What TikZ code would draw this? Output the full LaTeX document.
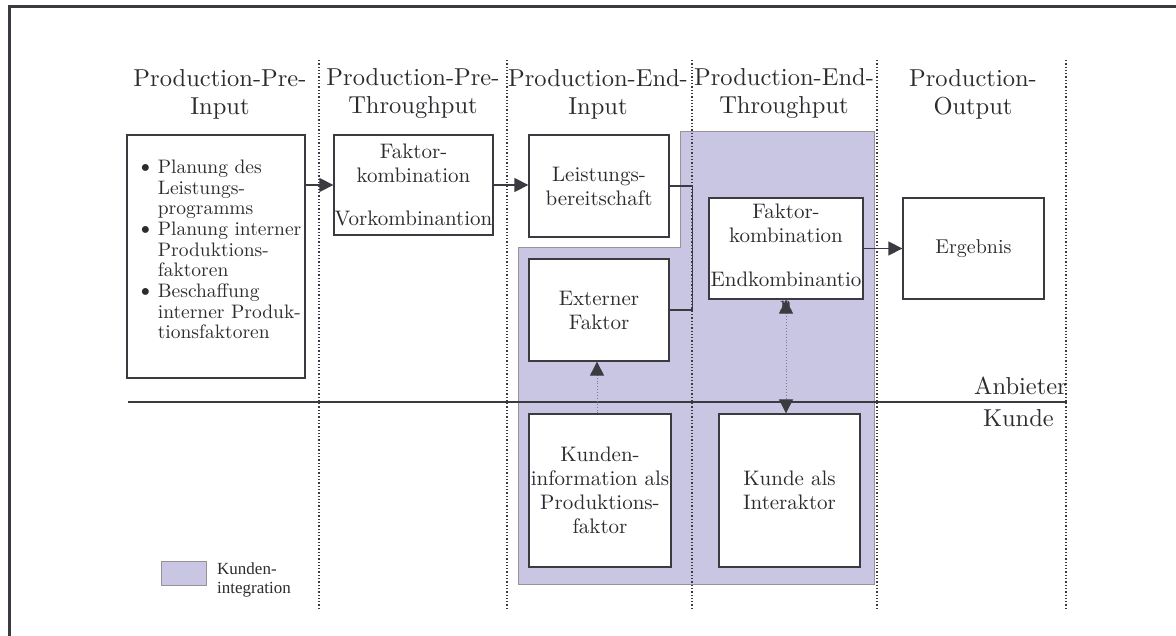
\documentclass[tikz,border=0pt]{standalone}
\usepackage{fontspec}
\setmainfont{lmroman10-regular.otf}[BoldFont=lmroman10-bold.otf, ItalicFont=lmroman10-italic.otf]
\newfontfamily\legendfont{Liberation Serif}
\usetikzlibrary{arrows.meta}
\definecolor{ink}{HTML}{3A3A40}
\definecolor{txt}{HTML}{2C2C30}
\definecolor{lav}{HTML}{C8C6E2}
\definecolor{lavedge}{HTML}{9C9296}
\definecolor{dotgray}{HTML}{7A7A80}
\begin{document}
\begin{tikzpicture}[x=1pt,y=-1pt,
  box/.style={draw=ink, line width=1.3pt, fill=white, inner sep=0pt, align=center,
    text=txt, font=\fontsize{21}{24}\selectfont},
  head/.style={align=center, text=txt, font=\fontsize{24.5}{28}\selectfont},
  colline/.style={draw=ink, line width=1.3pt, dotted},
  arr/.style={draw=ink, line width=1.3pt, -{Triangle[length=14pt,width=14pt]}},
  dotarr/.style={draw=dotgray, line width=0.9pt, dotted,
    {Triangle[length=14pt,width=14pt,fill=ink,color=ink]}-{Triangle[length=14pt,width=14pt,fill=ink,color=ink]}},
  dotarrone/.style={draw=dotgray, line width=0.9pt, dotted,
    -{Triangle[length=14pt,width=14pt,fill=ink,color=ink]}},
  lbl/.style={text=txt, font=\fontsize{24.5}{28}\selectfont, inner sep=0pt}
]
\useasboundingbox (0,0) rectangle (1176,636);

% frame (top and left)
\draw[ink, line width=3pt] (9,636) -- (9,7) -- (1176,7);

% customer integration area
\filldraw[fill=lav, draw=lavedge, line width=1pt]
  (680,132) -- (874,132) -- (874,584) -- (518,584) -- (518,248) -- (680,248) -- cycle;

% column separators
\foreach \xx in {319,507,692,877,1066} \draw[colline] (\xx,60) -- (\xx,609);

% headers
\node[head] (h1) at (220,94) {Production-Pre-\\Input};
\node[head] (h2) at (413,94) {Production-Pre-\\Throughput};
\node[head] (h3) at (598,94) {Production-End-\\Input};
\node[head] (h4) at (784,94) {Production-End-\\Throughput};
\node[head] (h5) at (973,94) {Production-\\Output};

% boxes
\node[box, minimum width=178pt, minimum height=243pt] (A) at (216,256.5) {};
\node[text=txt, font=\fontsize{19.5}{20.7}\selectfont, inner sep=0pt, anchor=west] (Atxt) at (136,252)
  {\begin{tabular}{@{}l@{\hspace{3pt}}l@{}}
   {\fontsize{24}{20.7}\selectfont\textbullet} & Planung des\\
   & Leistungs-\\
   & programms\\
   {\fontsize{24}{20.7}\selectfont\textbullet} & Planung interner\\
   & Produktions-\\
   & faktoren\\
   {\fontsize{24}{20.7}\selectfont\textbullet} & Beschaffung\\
   & interner Produk-\\
   & tionsfaktoren
   \end{tabular}};
\node[box, minimum width=159pt, minimum height=100pt, font=\fontsize{21}{23.5}\selectfont] (B) at (413.5,185)
  {Faktor-\\kombination\\[20pt]Vorkombinantion};
\node[box, minimum width=140pt, minimum height=102pt] (C) at (599,186)
  {Leistungs-\\bereitschaft};
\node[box, minimum width=140pt, minimum height=102pt] (D) at (599,310)
  {Externer\\Faktor};
\node[box, minimum width=154pt, minimum height=101pt] (E) at (786,248.5) {};
\node[box, minimum width=141pt, minimum height=101pt, font=\fontsize{20}{24}\selectfont] (F) at (973.5,248.5) {Ergebnis};
\node[box, minimum width=142pt, minimum height=153pt] (G) at (600,490.5)
  {Kunden-\\information als\\Produktions-\\faktor};
\node[box, minimum width=141pt, minimum height=153pt] (H) at (789.5,490.5)
  {Kunde als\\Interaktor};

% provider/customer line
\draw[ink, line width=1.5pt] (128,402) -- (1067,402);
\node[lbl, anchor=base east] (anb) at (1067,395) {Anbieter};
\node[lbl, anchor=base east] (kun) at (1054,426) {Kunde};

% connectors
\draw[arr] (A.east |- B.west) -- (B.west);
\draw[arr] (B.east) -- (C.west |- B.east);
\draw[ink, line width=1.3pt] (C.east) -- ++(23,0) |- (D.east);
\draw[arr] (E.east) -- (F.west);
\draw[dotarrone] ([xshift=-3pt]G.north) -- ([xshift=-3pt]G.north |- D.south);

% text of E (overflowing)
\node[align=center, text=txt, font=\fontsize{21}{24}\selectfont, inner sep=0pt] (Etxt) at (786,257)
  {Faktor-\\kombination\\[20pt]Endkombinantio\\n};
\draw[dotarr] (E.south) -- (E.south |- H.north);

% legend
\node[draw=lavedge, fill=lav, line width=0.8pt, minimum width=45pt, minimum height=24pt, inner sep=0pt] (leg) at (183.5,573) {};
\node[anchor=west, align=left, text=txt, font=\legendfont\fontsize{17}{19}\selectfont, inner sep=0pt] (legtxt) at (217,580)
  {Kunden-\\integration};
\end{tikzpicture}
\end{document}
